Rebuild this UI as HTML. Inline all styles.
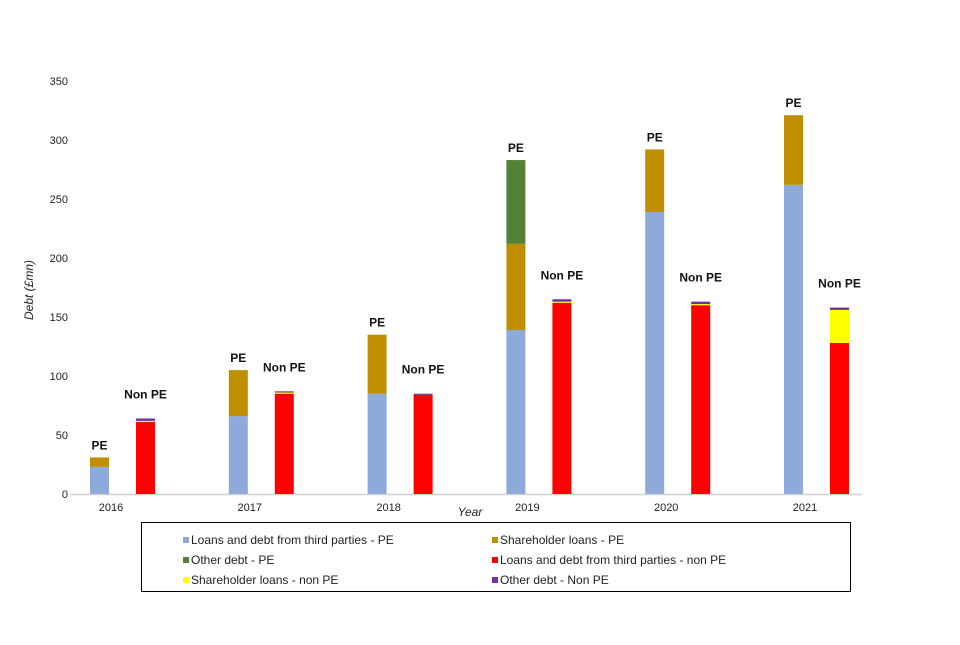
<!DOCTYPE html>
<html><head><meta charset="utf-8"><style>
body{margin:0;background:#fff;font-family:"Liberation Sans",Arial,sans-serif}
svg text{font-family:"Liberation Sans",Arial,sans-serif}
</style></head><body>
<svg width="960" height="640" viewBox="0 0 960 640">
<g id="axes"></g><g id="bars"></g>
<g>
<rect x="141.5" y="522.5" width="709" height="69" fill="#fff" stroke="#000"/>
<g id="legend"></g>
</g>
<text x="470" y="516" font-size="12" font-style="italic" text-anchor="middle" fill="#222">Year</text>
<text transform="translate(33,290) rotate(-90)" font-size="12" font-style="italic" text-anchor="middle" fill="#222">Debt (£mn)</text>
</svg>
<script>
const years=["2016","2017","2018","2019","2020","2021"];
const peLoans=[23,66,85,139,239,262];
const peShareholder=[8,39,50,73,53,59];
const peOther=[0,0,0,71,0,0];
const npLoans=[61,85,84,162,160,128];
const npShareholder=[1,1,0,1,1,28];
const npOther=[2,1,1,2,2,2];
const yTicks=[0,50,100,150,200,250,300,350];
const NS="http://www.w3.org/2000/svg";
const y0=494,pxPer=59/50;
function y(v){return y0-v*pxPer;}
function x(i){return 90+i*138.8;}
function mk(tag,attrs,parent){const e=document.createElementNS(NS,tag);for(const k in attrs)e.setAttribute(k,attrs[k]);parent.appendChild(e);return e;}
const axes=document.getElementById('axes'),bars=document.getElementById('bars');
yTicks.forEach(t=>{const tx=mk('text',{x:68,y:y(t)+4,'font-size':11,'text-anchor':'end',fill:'#222'},axes);tx.textContent=t;

});
const ax=mk('line',{x1:70,x2:862,y1:y0+0.5,y2:y0+0.5,stroke:'#d0d0d0','stroke-width':1.5},axes);


const cols={peL:'#8eaadb',peS:'#bf8f00',peO:'#538135',npL:'#ff0000',npS:'#ffff00',npO:'#7030a0'};
function stack(xp,series,i,label,lname,gap){let base=0;series.forEach(([arr,c,nm])=>{const v=arr[i];if(v<=0)return;
const r=mk('rect',{x:xp,y:y(base+v),width:19,height:v*pxPer,fill:c},bars);


base+=v;});
const t=mk('text',{x:xp+9.5,y:y(base)-gap,'font-size':12,'font-weight':'bold','text-anchor':'middle',fill:'#111'},bars);t.textContent=label;

}
years.forEach((yr,i)=>{
stack(x(i),[[peLoans,cols.peL,'bar-pe-loans'],[peShareholder,cols.peS,'bar-pe-shareholder'],[peOther,cols.peO,'bar-pe-other']],i,'PE','pe-label',8);
stack(x(i)+46,[[npLoans,cols.npL,'bar-nonpe-loans'],[npShareholder,cols.npS,'bar-nonpe-shareholder'],[npOther,cols.npO,'bar-nonpe-other']],i,'Non PE','nonpe-label',20);
const t=mk('text',{x:x(i)+21,y:511,'font-size':11,'text-anchor':'middle',fill:'#222'},axes);t.textContent=yr;


});
const leg=[["Loans and debt from third parties - PE",cols.peL],["Shareholder loans - PE",cols.peS],["Other debt - PE",cols.peO],["Loans and debt from third parties - non PE",cols.npL],["Shareholder loans - non PE",cols.npS],["Other debt - Non PE",cols.npO]];
const lg=document.getElementById('legend');
leg.forEach(([t,c],k)=>{const cx=k%2?492:183,cy=541+Math.floor(k/2)*20;
const s=mk('rect',{x:cx,y:cy-4,width:6,height:6,fill:c},lg);


const tx=mk('text',{x:cx+8,y:cy+3,'font-size':12,fill:'#222'},lg);tx.textContent=t;

});
</script>
</body></html>
